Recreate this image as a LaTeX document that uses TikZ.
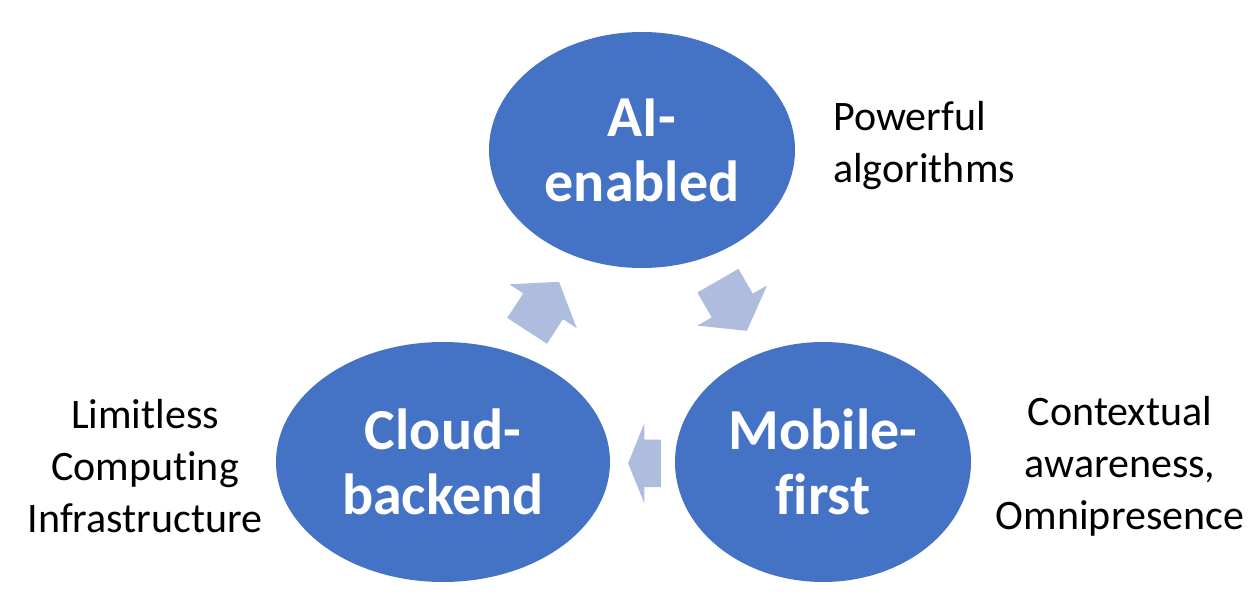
\documentclass[tikz,border=0pt]{standalone}
\usepackage{fontspec}
\setmainfont{Carlito}[Ligatures=NoCommon]
\usetikzlibrary{positioning, shapes, shapes.arrows}

\definecolor{circblue}{RGB}{68,114,196}
\definecolor{arrblue}{RGB}{174,188,222}

\tikzset{
	circnode/.style={ellipse, fill=circblue, inner sep=0pt, align=center, text=white,
		font=\bfseries\fontsize{58}{65}\selectfont},
	sidetext/.style={inner sep=0pt, font=\fontsize{42}{52}\selectfont},
	cyclearrow/.style={single arrow, fill=arrblue, inner xsep=0pt, inner ysep=23.5pt,
		minimum width=0pt, single arrow head extend=16.5pt, anchor=tail}
}

\begin{document}
\begin{tikzpicture}[x=1pt, y=1pt]
		
		\useasboundingbox (0,0) rectangle (1260,608);
		
		%Nodes
		\node (ai) at (642,458) [circnode, minimum width=306pt, minimum height=236pt]{AI- \\ enabled};
		
		\node (cloud) at (443,146) [circnode, minimum width=334pt, minimum height=240pt]{Cloud- \\ backend};
		
		\node (mobile) at (823,146) [circnode, minimum width=296pt, minimum height=240pt]{Mobile- \\ first};
		
		\node (algo) at (833,462) [sidetext, anchor=west, align=left]{Powerful \\ algorithms};
		
		\node (infra) at (145,142) [sidetext, align=center]{Limitless \\ Computing \\ Infrastructure};
		
		\node (context) at (1120,142) [sidetext, align=center]{Contextual \\ awareness, \\ Omnipresence};
		
		%Links
		\node (cloudai) at (527,277) [cyclearrow, minimum height=58.5pt, rotate=56.9,
		single arrow tip angle=108]{};
		\node (aimobile) at (717.8,327.5) [cyclearrow, minimum height=57.9pt, rotate=-60,
		single arrow tip angle=108]{};
		\node (mobilecloud) at (661,144.7) [cyclearrow, minimum height=32.7pt, rotate=180,
		single arrow tip angle=136]{};
		
		\end{tikzpicture}
\end{document}
